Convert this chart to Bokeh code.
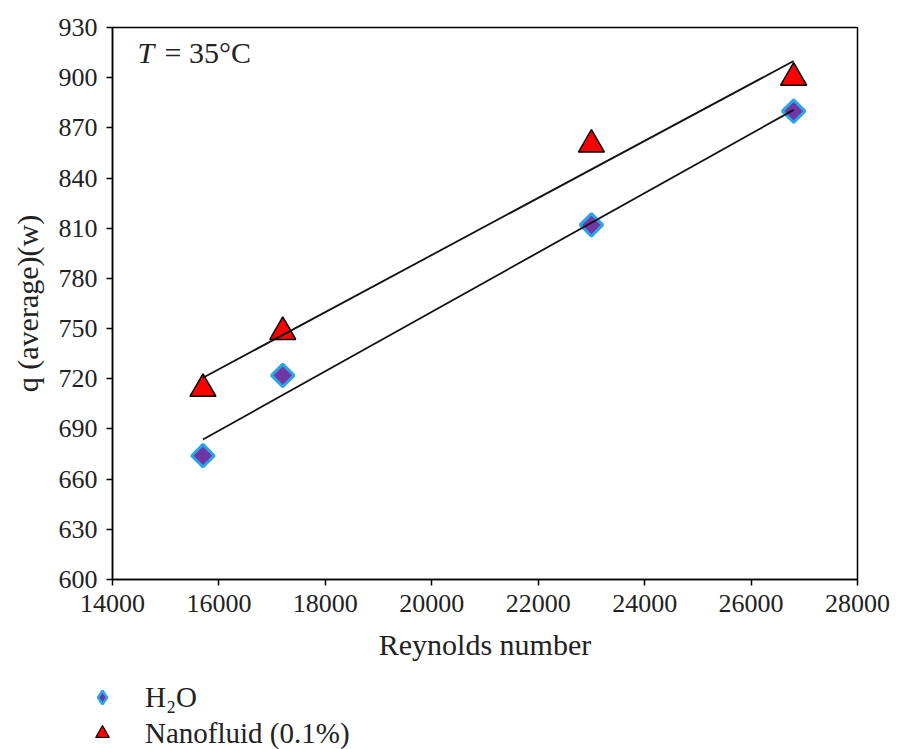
import numpy as np
from bokeh.plotting import figure
from bokeh.layouts import column, row
from bokeh.models import Label, Legend, LegendItem, FixedTicker, Range1d
from bokeh.embed import file_html
from bokeh.resources import INLINE

# Data
reynolds = [15700, 17200, 23000, 26800]
q_water = [674, 722, 812, 880]
q_nano = [714, 748, 860, 900]
x_ticks = [14000, 16000, 18000, 20000, 22000, 24000, 26000, 28000]
y_ticks = [600, 630, 660, 690, 720, 750, 780, 810, 840, 870, 900, 930]
series_names = ["H₂O", "Nanofluid (0.1%)"]

FONT = "Liberation Serif"
TXT = "#222222"
WATER_FILL, WATER_EDGE = "#7036A6", "#2AA6E6"
NANO_FILL, NANO_EDGE = "#FF0000", "black"

p = figure(width=890, height=674, output_backend="svg", toolbar_location=None,
           x_range=Range1d(14000, 28000), y_range=Range1d(600, 930),
           min_border_left=112, min_border_right=33, min_border_top=27,
           min_border_bottom=95)

p.xgrid.visible = False
p.ygrid.visible = False
p.outline_line_color = "black"
p.outline_line_width = 1.5

for ax in (p.xaxis[0], p.yaxis[0]):
    ax.axis_line_color = "black"
    ax.axis_line_width = 1.5
    ax.major_tick_line_color = "black"
    ax.major_tick_line_width = 1.5
    ax.major_tick_out = 6
    ax.major_tick_in = 0
    ax.minor_tick_line_color = None
    ax.major_label_text_font = FONT
    ax.major_label_text_font_size = "26px"
    ax.major_label_text_color = TXT
    ax.axis_label_text_font = FONT
    ax.axis_label_text_font_size = "30px"
    ax.axis_label_text_font_style = "normal"
    ax.axis_label_text_color = TXT

p.xaxis.ticker = FixedTicker(ticks=x_ticks)
p.yaxis.ticker = FixedTicker(ticks=y_ticks)
p.xaxis.axis_label = "Reynolds number"
p.yaxis.axis_label = "q (average)(w)"
p.xaxis.major_label_standoff = 9
p.xaxis.axis_label_standoff = 13
p.yaxis.major_label_standoff = 9
p.yaxis.axis_label_standoff = 12

p.scatter(reynolds, q_water, marker="square", angle=np.pi / 4, size=16, line_width=3,
          fill_color=WATER_FILL, line_color=WATER_EDGE)
p.scatter(reynolds, q_nano, marker="triangle", size=26, line_width=1.5,
          fill_color=NANO_FILL, line_color=NANO_EDGE)

# Linear trend lines from the data
xs = np.array([min(reynolds), max(reynolds)], dtype=float)
for ys in (q_water, q_nano):
    m, b = np.polyfit(reynolds, ys, 1)
    p.line(xs, m * xs + b, line_color="#111111", line_width=1.8)

p.add_layout(Label(x=14470, y=915, text="T", text_font=FONT, text_font_style="italic",
                   text_font_size="30px", text_baseline="middle", text_color=TXT))
p.add_layout(Label(x=14470, y=915, x_offset=27, text="= 35°C", text_font=FONT,
                   text_font_size="30px", text_baseline="middle", text_color=TXT))

# Legend panel below the chart; its proxy glyphs sit outside its (hidden) ranges
lg = figure(width=890, height=75, output_backend="svg", toolbar_location=None,
            x_range=Range1d(0, 1), y_range=Range1d(0, 1), min_border=0,
            min_border_left=0, min_border_right=0, min_border_top=0,
            min_border_bottom=0, x_axis_location=None, y_axis_location=None)
lg.xgrid.visible = False
lg.ygrid.visible = False
lg.outline_line_color = None
lw = lg.scatter(x=[reynolds[0]], y=[q_water[0]], marker="diamond", line_width=2.5,
                fill_color=WATER_FILL, line_color=WATER_EDGE)
ln = lg.scatter(x=[reynolds[0]], y=[q_nano[0]], marker="triangle", line_width=1.2,
                fill_color=NANO_FILL, line_color=NANO_EDGE)
legend = Legend(items=[LegendItem(label=series_names[0], renderers=[lw]),
                       LegendItem(label=series_names[1], renderers=[ln])],
                location=(85, -1), orientation="vertical",
                glyph_width=34, glyph_height=34, spacing=2, padding=0, margin=0,
                label_standoff=26, label_text_font=FONT, label_text_font_size="29px",
                label_text_color=TXT, border_line_color=None,
                background_fill_alpha=0)
lg.add_layout(legend, "center")

open("out.html", "w").write(file_html(column(p, row(lg), spacing=0), INLINE))
